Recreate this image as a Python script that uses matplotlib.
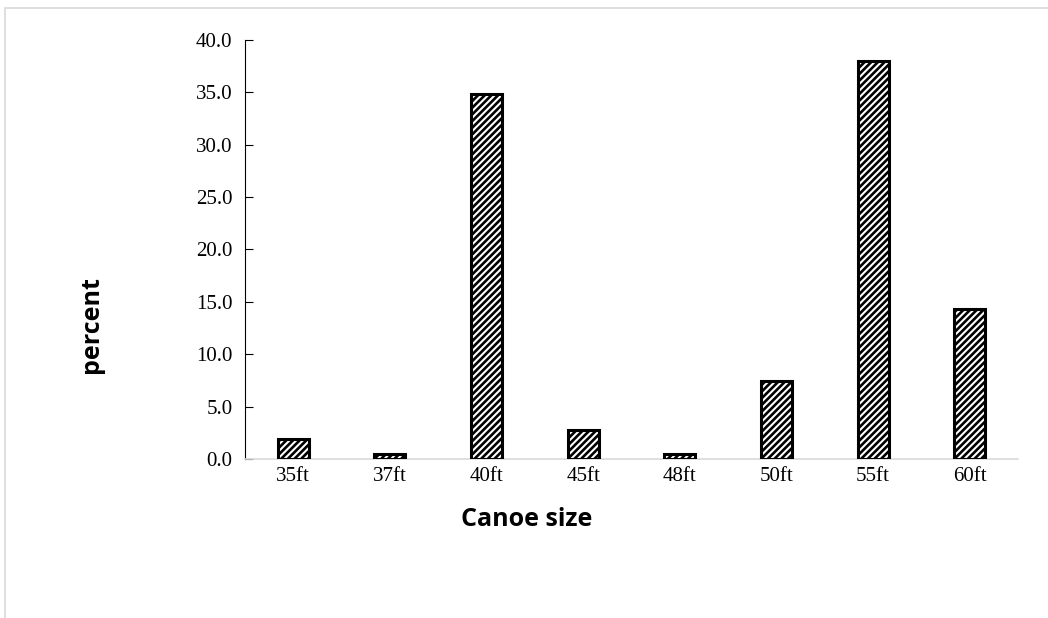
import matplotlib
matplotlib.use('Agg')
import matplotlib.pyplot as plt
from matplotlib.patches import Rectangle

# data
sizes = ['35ft', '37ft', '40ft', '45ft', '48ft', '50ft', '55ft', '60ft']
percent = [1.9, 0.5, 34.8, 2.8, 0.5, 7.4, 38.0, 14.3]
yticks = [0, 5, 10, 15, 20, 25, 30, 35, 40]

plt.rcParams['hatch.linewidth'] = 1.9

fig = plt.figure(figsize=(10.48, 6.18), dpi=100)
ax = fig.add_axes([245/1048, 1-459/618, (1018-245)/1048, (459-40)/618])

# light grey outer frame of the chart area
fig.patches.append(Rectangle((5/1048, -0.2), 2.0, 1.2 - 8/618, transform=fig.transFigure,
                             fill=False, edgecolor='#d9d9d9', linewidth=1.2))

x = list(range(len(sizes)))
ax.bar(x, percent, width=0.32, color='white', edgecolor='black', linewidth=2.2,
       hatch='/////', zorder=3)

ax.set_xlim(-0.5, len(sizes) - 0.5)
ax.set_ylim(0, 40)
ax.set_xticks(x)
ax.set_xticklabels(sizes, fontsize=15, family='Liberation Serif')
ax.set_yticks(yticks)
ax.set_yticklabels(['%.1f' % v for v in yticks], fontsize=15, family='Liberation Serif')

ax.spines['top'].set_visible(False)
ax.spines['right'].set_visible(False)
ax.spines['bottom'].set_color('#d9d9d9')
ax.spines['bottom'].set_linewidth(1.2)
ax.spines['left'].set_color('black')
ax.tick_params(axis='x', length=0, pad=6)
ax.tick_params(axis='y', direction='in', length=6, pad=9)

fig.text(527/1048, 1-520/618, 'Canoe size', fontsize=18, fontweight='bold',
         family='Open Sans', ha='center', va='center')
fig.text(92/1048, 1-325/618, 'percent', fontsize=18, fontweight='bold',
         family='Open Sans', ha='center', va='center', rotation=90)

plt.savefig('out.png', dpi=100)
